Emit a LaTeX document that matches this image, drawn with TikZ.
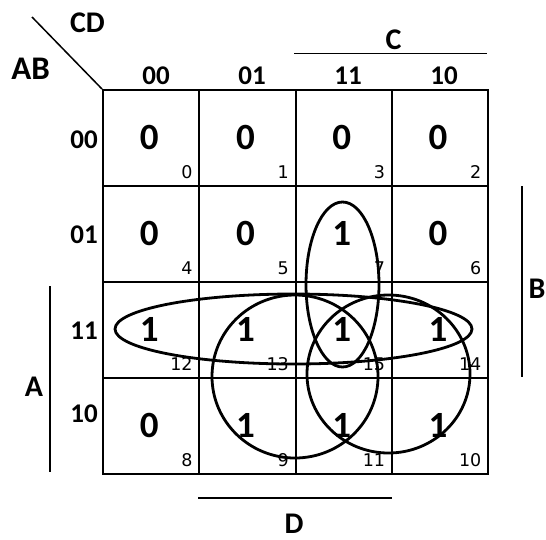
\documentclass[tikz,border=0pt]{standalone}
\usepackage{fontspec}
\setmainfont{Carlito}
\newfontfamily\idxfont{DejaVu Sans}
\begin{document}
\begin{tikzpicture}[x=1pt,y=-1pt,
  hdr/.style={font=\bfseries\fontsize{27}{27}\selectfont, inner sep=0},
  var/.style={font=\bfseries\fontsize{30}{30}\selectfont, inner sep=0},
  big/.style={font=\bfseries\fontsize{37}{37}\selectfont, inner sep=0},
  idx/.style={font=\idxfont\fontsize{17.5}{17.5}\selectfont, inner sep=0, anchor=base east},
  cellbox/.style={draw, line width=2pt, minimum width=96.25pt, minimum height=96pt, inner sep=0},
  loop/.style={line width=2.8pt},
  bar/.style={line width=1.5pt}]
\useasboundingbox (0,0) rectangle (546,539);
% cells
\foreach \r/\ry in {0/138,1/234,2/330,3/426}{
  \foreach \c/\cx in {0/151.125,1/247.375,2/343.625,3/439.875}{
    \node[cellbox] (cell\r\c) at (\cx,\ry) {};
  }
}
% values and indices
\foreach \r/\c/\v/\i in {0/0/0/0,0/1/0/1,0/2/0/3,0/3/0/2,
                        1/0/0/4,1/1/0/5,1/2/1/7,1/3/0/6,
                        2/0/1/12,2/1/1/13,2/2/1/15,2/3/1/14,
                        3/0/0/8,3/1/1/9,3/2/1/11,3/3/1/10}{
  \node[big] (val\r\c) at ([xshift=-2pt,yshift=1pt]cell\r\c.center) {\v};
  \node[idx] (idx\r\c) at ([xshift=-7.5pt,yshift=9pt]cell\r\c.south east) {\i};
}
% corner
\coordinate (diagstart) at (32,17);
\draw[line width=1.5pt] (diagstart) -- (cell00.north west);
\node[var] (cd) at (87.5,22.5) {CD};
\node[var,font=\bfseries\fontsize{33}{33}\selectfont] (ab) at (30.5,69) {AB};
% column headers
\node[hdr] (h0) at (156,75.5) {00};
\node[hdr] (h1) at (252,75.5) {01};
\node[hdr] (h2) at (348,75.5) {11};
\node[hdr] (h3) at (444,75.5) {10};
% row headers
\node[hdr] (r0) at (84,140) {00};
\node[hdr] (r1) at (84,235) {01};
\node[hdr] (r2) at (84,331) {11};
\node[hdr] (r3) at (84,414) {10};
% variable bars
\coordinate (cb1) at (294,53.5); \coordinate (cb2) at (487,53.5);
\draw[bar] (cb1) -- (cb2);
\node[var] (varC) at (393.5,40) {C};
\coordinate (bb1) at (522,186); \coordinate (bb2) at (522,377);
\draw[bar] (bb1) -- (bb2);
\node[var] (varB) at (537,289) {B};
\coordinate (ab1) at (50,286); \coordinate (ab2) at (50,472);
\draw[bar] (ab1) -- (ab2);
\node[var] (varA) at (34,386.5) {A};
\coordinate (db1) at (198,498); \coordinate (db2) at (392,498);
\draw[bar] (db1) -- (db2);
\node[var] (varD) at (294,523.5) {D};
% groupings
\draw[loop] (342.5,284.5) ellipse [x radius=36.5, y radius=82.5];
\draw[loop] (293.5,329) ellipse [x radius=178.5, y radius=35];
\draw[loop] (295,376.5) ellipse [x radius=83, y radius=81.5];
\draw[loop] (388.5,374) ellipse [x radius=81.5, y radius=79];
\end{tikzpicture}
\end{document}
